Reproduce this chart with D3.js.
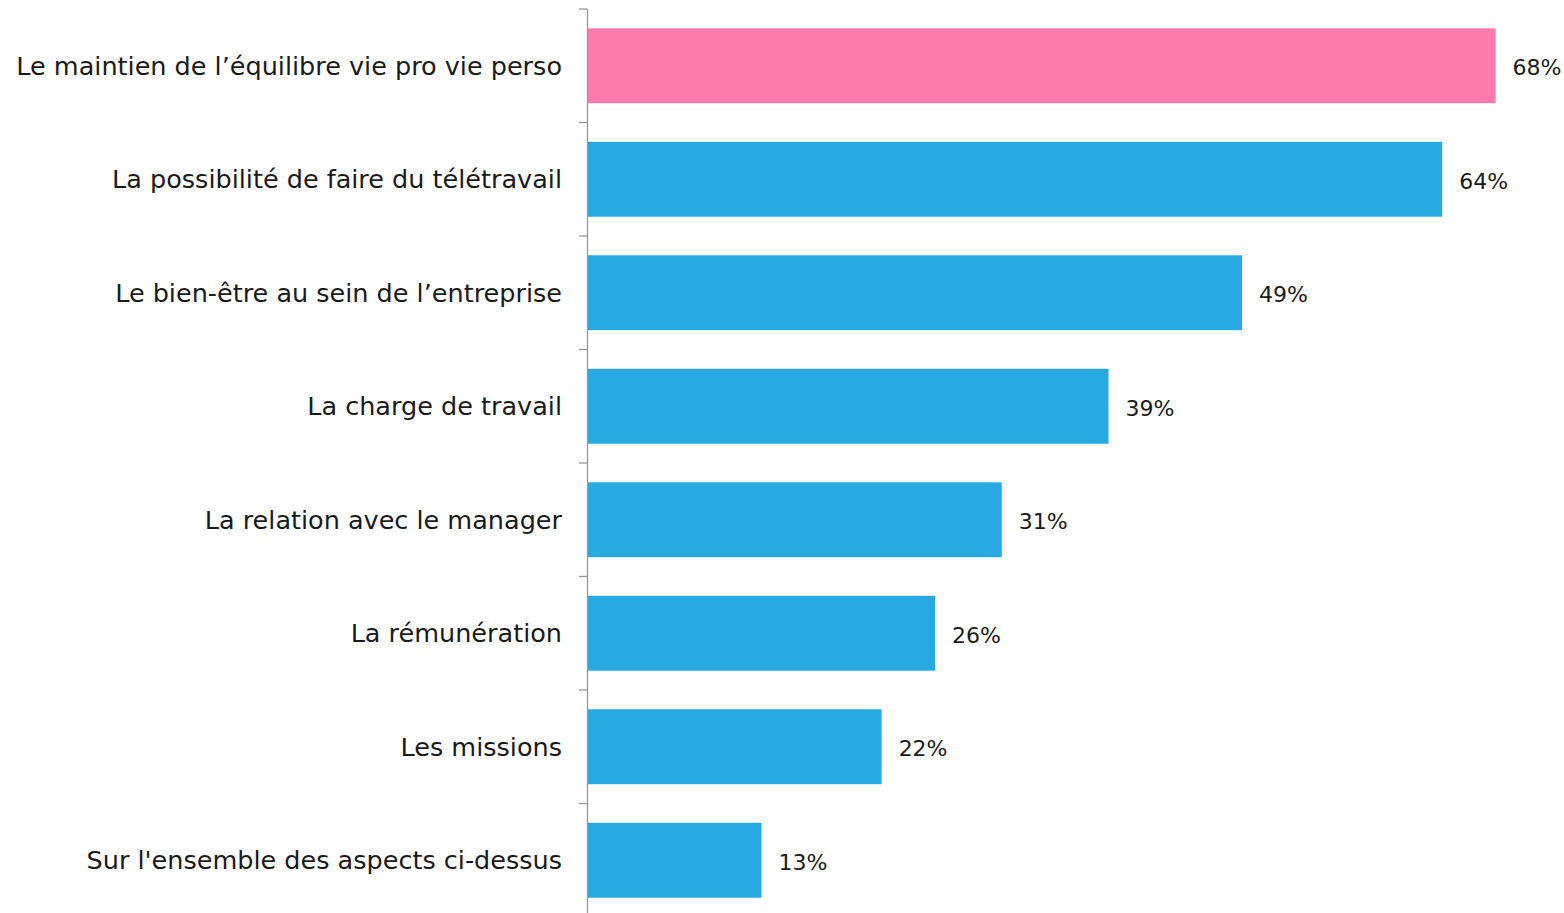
<!DOCTYPE html>
<html>
<head>
<meta charset="utf-8">
<script src="https://cdn.jsdelivr.net/npm/d3@7"></script>
<style>
  body { margin: 0; background: #fff; }
  svg { display: block; }
</style>
</head>
<body>
<div id="chart"></div>
<script>
// aspects cités, du plus au moins fréquent
const categories = [
  "Le maintien de l\u2019équilibre vie pro vie perso",
  "La possibilité de faire du télétravail",
  "Le bien-être au sein de l\u2019entreprise",
  "La charge de travail",
  "La relation avec le manager",
  "La rémunération",
  "Les missions",
  "Sur l'ensemble des aspects ci-dessus"
];
const values = [68, 64, 49, 39, 31, 26, 22, 13];
const highlight = [true, false, false, false, false, false, false, false];

const W = 1564, H = 913;
const font = "'Century Gothic', 'URW Gothic', 'DejaVu Sans', sans-serif";

const svg = d3.select('#chart').append('svg')
  .attr('width', W).attr('height', H);

const x = d3.scaleLinear().domain([0, 73.2]).range([588, 1565]);
const y = d3.scaleBand().domain(categories).range([9, 917]).paddingInner(0.34).paddingOuter(0.17);

const rows = categories.map((c, i) => ({ cat: c, val: values[i], hi: highlight[i] }));

svg.append('g').selectAll('rect').data(rows).enter().append('rect')
  .attr('x', x(0))
  .attr('y', d => y(d.cat))
  .attr('width', d => x(d.val) - x(0))
  .attr('height', y.bandwidth())
  .attr('fill', d => d.hi ? '#FF7BAC' : '#29A9E1');

// axe vertical avec graduations entre les catégories
const axis = svg.append('g');
const step = y.step();
axis.append('line')
  .attr('x1', 587.5).attr('x2', 587.5)
  .attr('y1', 9).attr('y2', 917)
  .attr('stroke', '#999').attr('stroke-width', 1.3);
axis.selectAll('line.tick').data(d3.range(categories.length + 1)).enter().append('line')
  .attr('class', 'tick')
  .attr('x1', 579).attr('x2', 587.5)
  .attr('y1', i => 9 + i * step).attr('y2', i => 9 + i * step)
  .attr('stroke', '#999').attr('stroke-width', 1.3);

svg.append('g').selectAll('text').data(rows).enter().append('text')
  .attr('x', 562)
  .attr('y', d => y(d.cat) + y.bandwidth() / 2)
  .attr('dy', '0.35em')
  .attr('text-anchor', 'end')
  .attr('font-family', font).attr('font-size', 25.5)
  .attr('fill', '#1a1a1a')
  .text(d => d.cat);

svg.append('g').selectAll('text').data(rows).enter().append('text')
  .attr('x', d => x(d.val) + 17)
  .attr('y', d => y(d.cat) + y.bandwidth() / 2 + 2)
  .attr('dy', '0.35em')
  .attr('font-family', font).attr('font-size', 22)
  .attr('fill', '#1a1a1a')
  .text(d => d.val + '%');
</script>
</body>
</html>
